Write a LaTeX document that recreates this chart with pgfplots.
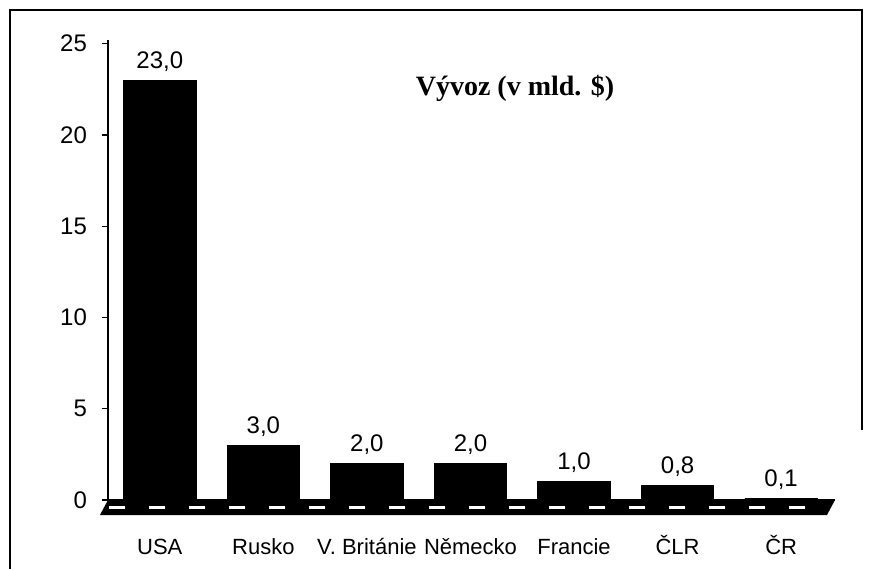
\documentclass[border=0pt]{standalone}
\usepackage{fontspec}
\setmainfont{Liberation Sans}
\newfontfamily\serifb{Liberation Serif}
\usepackage{pgfplots}
\pgfplotsset{compat=1.18}
\begin{document}
\begin{tikzpicture}
\useasboundingbox (0,0) rectangle (434.5pt,284.5pt);
\draw[line width=1.1pt] (5pt,0pt) -- (5pt,279.5pt) -- (431pt,279.5pt) -- (431pt,69.5pt);
\begin{axis}[
  at={(54pt,34.5pt)}, anchor=south west,
  scale only axis, width=363.5pt, height=230pt,
  xmin=-0.5, xmax=6.52, ymin=0, ymax=25.2,
  axis x line=bottom, axis y line=left,
  axis line style={-, line width=1.1pt, black},
  ybar, bar width=0.7, bar shift=0pt,
  xtick={0,...,6},
  xticklabels={USA,Rusko,V. Británie,Německo,Francie,ČLR,ČR},
  x tick style={draw=none},
  ytick={0,5,...,25},
  y tick style={black, line width=0.6pt},
  tick align=outside, major tick length=3pt,
  /pgf/number format/assume math mode=true,
  yticklabel style={font=\fontsize{12}{14}\selectfont, xshift=-4pt},
  xticklabel style={font=\fontsize{11}{13}\selectfont, yshift=-9.5pt, text height=2.1ex, text depth=0.3ex, anchor=north},
  nodes near coords={\pgfmathprintnumber[fixed,fixed zerofill,precision=1,use comma,assume math mode=true]{\pgfplotspointmeta}},
  every node near coord/.append style={font=\fontsize{12}{14}\selectfont, yshift=1pt},
  clip=false,
]
\fill[black] (axis cs:-0.5,0) -- (axis cs:6.52,0) -- ++(-4pt,-7.5pt) -- ([xshift=-4pt,yshift=-7.5pt]axis cs:-0.5,0) -- cycle;
\draw[white, line width=1.5pt, dash pattern=on 8pt off 12pt] ([xshift=-2pt,yshift=-3.75pt]axis cs:-0.45,0) -- ([xshift=-2pt,yshift=-3.75pt]axis cs:6.45,0);
\addplot[fill=black, draw=black] coordinates {(0,23.0) (1,3.0) (2,2.0) (3,2.0) (4,1.0) (5,0.8) (6,0.1)};
\end{axis}
\node[font=\serifb\bfseries\fontsize{14}{16}\selectfont] at (257.5pt,240.5pt) {Vývoz (v mld. \$)};
\end{tikzpicture}
\end{document}
